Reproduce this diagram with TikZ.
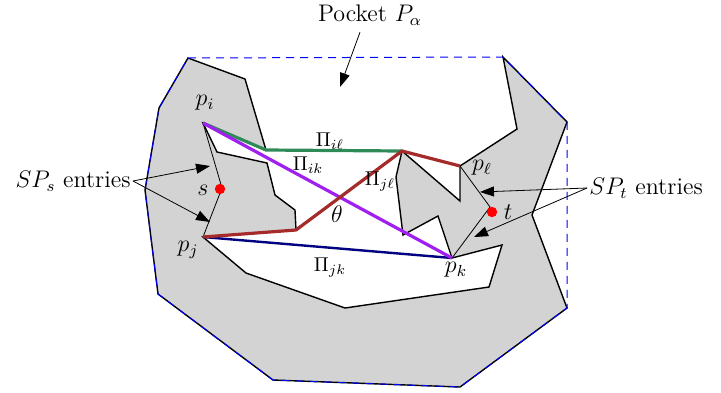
\documentclass[tikz,border=0pt]{standalone}
\usetikzlibrary{arrows.meta}
\definecolor{pocketgray}{RGB}{211,211,211}
\definecolor{pathgreen}{RGB}{46,139,87}
\definecolor{pathpurple}{RGB}{160,32,240}
\definecolor{pathbrown}{RGB}{165,42,42}
\definecolor{pathnavy}{RGB}{0,0,128}
\tikzset{
  entry/.style={-{Triangle[length=7pt,width=5pt]},thin},
  lbl/.style={font=\fontsize{12}{14}\selectfont},
  plbl/.style={font=\normalsize},
  fat/.style={line width=1.6pt},
}
\begin{document}
\begin{tikzpicture}[x=0.5pt,y=-0.5pt]
    \useasboundingbox (0,0) rectangle (721,392);
    \coordinate (pi) at (203,123);
    \coordinate (pj) at (203,237);
    \coordinate (pk) at (452,258);
    \coordinate (pl) at (460,166);
    \coordinate (hub) at (402,151);
    \coordinate (bend) at (266,150);
    \coordinate (knee) at (296,230);
    \coordinate (sa) at (222,188);
    \coordinate (ta) at (490,207);
    \draw[fill=pocketgray,line width=0.7pt] (188,58) -- (245,79) -- (bend) -- (pi) -- (217,152) -- (267,163)
        -- (275,195) -- (295,210) -- (knee) -- (pj) -- (246,273) -- (345,308) -- (489,287) -- (502,245)
        -- (pk) -- (438,216) -- (403,235) -- (396,177) -- (hub) -- (460,201) -- (pl) -- (517,129)
        -- (503,57) -- (567,122) -- (532,215) -- (567,308) -- (460,387) -- (273,380) -- (158,294)
        -- (145,190) -- (159,108) -- cycle;
    \draw[blue,dash pattern=on 4pt off 3pt,line width=0.5pt] (188,58) -- (503,57) -- (567,122) -- (567,308)
        -- (460,387) -- (273,380) -- (158,294) -- (145,190) -- (159,108) -- cycle;
    \draw[thin] (pi) -- (sa) -- (pj);
    \draw[thin] (pl) -- (ta) -- (pk);
    \draw[pathgreen,fat] (pi) -- (bend) -- (hub);
    \draw[pathnavy,line width=1.2pt] (pj) -- (pk);
    \draw[pathpurple,fat] (pi) -- (pk);
    \draw[pathbrown,fat,line join=round] (pj) -- (knee) -- (hub) -- (pl);
    \fill[red] (220,189) circle (2.6pt);
    \fill[red] (492,212) circle (2.6pt);
    \node[lbl] (lpi) at (205,103) {$p_i$};
    \node[lbl] (lpj) at (188,250) {$p_j$};
    \node[lbl] (lpk) at (456,270) {$p_k$};
    \node[lbl] (lpl) at (482,168) {$p_\ell$};
    \node[lbl] (ls) at (203,190) {$s$};
    \node[lbl] (lt) at (508,212) {$t$};
    \node[lbl] (theta) at (337,214) {$\theta$};
    \node[plbl] (pil) at (330,141) {$\Pi_{i\ell}$};
    \node[plbl] (pik) at (308,165) {$\Pi_{ik}$};
    \node[plbl] (pjl) at (380,182) {$\Pi_{j\ell}$};
    \node[plbl] (pjk) at (330,268) {$\Pi_{jk}$};
    \node[lbl] (pocket) at (370,15) {Pocket $P_\alpha$};
    \coordinate (pockettip) at (340,87);
    \draw[entry] ([xshift=-5pt]pocket.south) -- (pockettip);
    \node[lbl,anchor=east,inner sep=1pt] (sps) at (133,181) {$SP_s$ entries};
    \coordinate (sin) at (210,166);
    \coordinate (sout) at (210,222);
    \draw[entry] (sps.east) -- (sin);
    \draw[entry] (sps.east) -- (sout);
    \node[lbl,anchor=west,inner sep=1pt] (spt) at (587,188) {$SP_t$ entries};
    \coordinate (tin) at (480,192);
    \coordinate (tout) at (474,237);
    \draw[entry] (spt.west) -- (tin);
    \draw[entry] (spt.west) -- (tout);
\end{tikzpicture}
\end{document}
